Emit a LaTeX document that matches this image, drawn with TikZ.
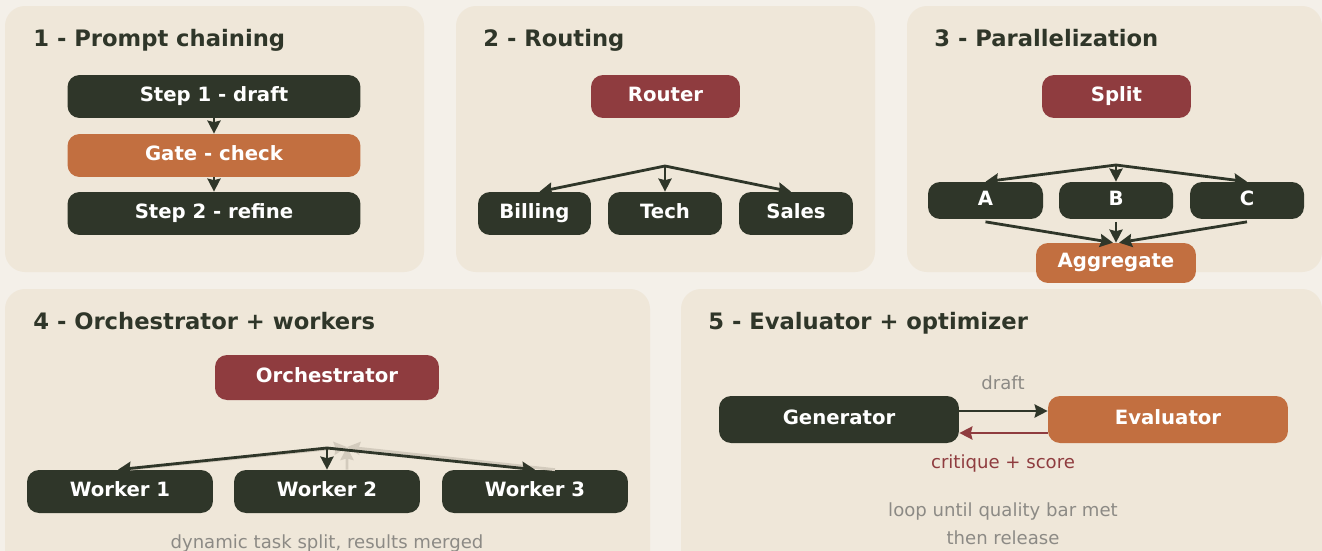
\documentclass[tikz,border=0pt]{standalone}
\usepackage{fontspec}
\setmainfont{DejaVu Sans}
\usetikzlibrary{arrows.meta}
\definecolor{bgc}{HTML}{F4F0E9}
\definecolor{panelc}{HTML}{EFE7D9}
\definecolor{dk}{HTML}{2F3629}
\definecolor{orc}{HTML}{C26F40}
\definecolor{redc}{HTML}{8F3C3F}
\definecolor{grayc}{HTML}{8C8A85}
\definecolor{fadec}{HTML}{D3CBBD}
\begin{document}
\begin{tikzpicture}[x=0.02cm, y=-0.02cm,
    panel/.style={fill=panelc, rounded corners=0.4cm},
    title/.style={anchor=base west, inner sep=0pt, text=dk, font=\bfseries\fontsize{12.9}{15}\selectfont},
    box/.style={rounded corners=0.24cm, inner sep=0pt, text=white, minimum height=0.86cm, text height=8pt, text depth=2.8pt, font=\bfseries\fontsize{11.2}{13}\selectfont},
    note/.style={inner sep=0pt, text=grayc, font=\fontsize{10.3}{12}\selectfont},
    link/.style={draw=dk, line width=1.6pt, -{Stealth[length=0.26cm, width=0.26cm, inset=0.03cm]}},
    back/.style={link, draw=fadec},
  ]
  \fill[bgc] (0,0) rectangle (1322,551);
  \clip (0,0) rectangle (1322,551);

  \fill[panel] (5,6) rectangle (424,272);
  \fill[panel] (456,6) rectangle (875,272);
  \fill[panel] (907,6) rectangle (1322,272);
  \fill[panel] (5,289) rectangle (650,590);
  \fill[panel] (681,289) rectangle (1322,590);

  \node[title] (t1) at (33,46) {1 - Prompt chaining};
  \node[title] (t2) at (483,46) {2 - Routing};
  \node[title] (t3) at (934,46) {3 - Parallelization};
  \node[title] (t4) at (33,329) {4 - Orchestrator + workers};
  \node[title] (t5) at (708,329) {5 - Evaluator + optimizer};

  % 1 - chaining
  \node[box, fill=dk, minimum width=5.86cm] (step1) at (214,96.5) {Step 1 - draft};
  \node[box, fill=orc, minimum width=5.86cm] (gate) at (214,155.5) {Gate - check};
  \node[box, fill=dk, minimum width=5.86cm] (step2) at (214,213.5) {Step 2 - refine};
  \draw[link] (step1) -- (gate);
  \draw[link] (gate) -- (step2);

  % 2 - routing
  \node[box, fill=redc, minimum width=2.98cm] (router) at (665.5,96.5) {Router};
  \node[box, fill=dk, minimum width=2.26cm] (billing) at (534.5,213.5) {Billing};
  \node[box, fill=dk, minimum width=2.28cm] (tech) at (665,213.5) {Tech};
  \node[box, fill=dk, minimum width=2.28cm] (sales) at (796,213.5) {Sales};
  \coordinate (fan2) at (665,166);
  \draw[link] (fan2) -- ([xshift=0.1cm]billing.north);
  \draw[link] (fan2) -- (tech.north);
  \draw[link] (fan2) -- ([xshift=-0.1cm]sales.north);

  % 3 - parallel
  \node[box, fill=redc, minimum width=2.98cm] (split) at (1116.5,96.5) {Split};
  \node[box, fill=dk, minimum width=2.3cm, minimum height=0.74cm] (pa) at (985.5,200.5) {A};
  \node[box, fill=dk, minimum width=2.28cm, minimum height=0.74cm] (pb) at (1116,200.5) {B};
  \node[box, fill=dk, minimum width=2.28cm, minimum height=0.74cm] (pc) at (1247,200.5) {C};
  \node[box, fill=orc, minimum width=3.2cm, minimum height=0.8cm] (agg) at (1116,263) {Aggregate};
  \coordinate (fan3) at (1116,165);
  \draw[link] (fan3) -- (pa.north);
  \draw[link] (fan3) -- (pb.north);
  \draw[link] (fan3) -- (pc.north);
  \draw[link] ([yshift=-0.05cm]pa.south) -- ([xshift=-0.06cm]agg.north);
  \draw[link] ([yshift=-0.05cm]pb.south) -- (agg.north);
  \draw[link] ([yshift=-0.05cm]pc.south) -- ([xshift=0.06cm]agg.north);

  % 4 - orchestrator
  \node[box, fill=redc, minimum width=4.48cm, minimum height=0.9cm] (orch) at (327,377.5) {Orchestrator};
  \node[box, fill=dk, minimum width=3.72cm] (w1) at (120,491.5) {Worker 1};
  \node[box, fill=dk, minimum width=3.72cm] (w2) at (327,491.5) {Worker 2};
  \node[box, fill=dk, minimum width=3.72cm] (w3) at (535,491.5) {Worker 3};
  \coordinate (fan4) at (327,448);
  \coordinate (merge4) at (347,447);
  \draw[back] ([xshift=0.1cm]w1.north) -- (merge4);
  \draw[back] ([xshift=0.4cm]w2.north) -- (merge4);
  \draw[back] ([xshift=0.4cm]w3.north) -- (merge4);
  \draw[link] (fan4) -- ([xshift=-0.04cm]w1.north);
  \draw[link] (fan4) -- (w2.north);
  \draw[link] (fan4) -- (w3.north);
  \node[note] (n4) at (327,544) {dynamic task split, results merged};

  % 5 - evaluator
  \node[box, fill=dk, minimum width=4.8cm, minimum height=0.94cm] (gen) at (839,419.5) {Generator};
  \node[box, fill=orc, minimum width=4.8cm, minimum height=0.94cm] (eval) at (1168,419.5) {Evaluator};
  \draw[link] ([yshift=0.17cm]gen.east) -- ([yshift=0.17cm]eval.west);
  \draw[link, draw=redc] ([yshift=-0.27cm]eval.west) -- ([yshift=-0.27cm]gen.east);
  \node[note] (draft) at (1003,383) {draft};
  \node[note, text=redc] (crit) at (1003,464) {critique + score};
  \node[note] (loop) at (1003,512) {loop until quality bar met};
  \node[note] (rel) at (1003,538) {then release};
\end{tikzpicture}
\end{document}
